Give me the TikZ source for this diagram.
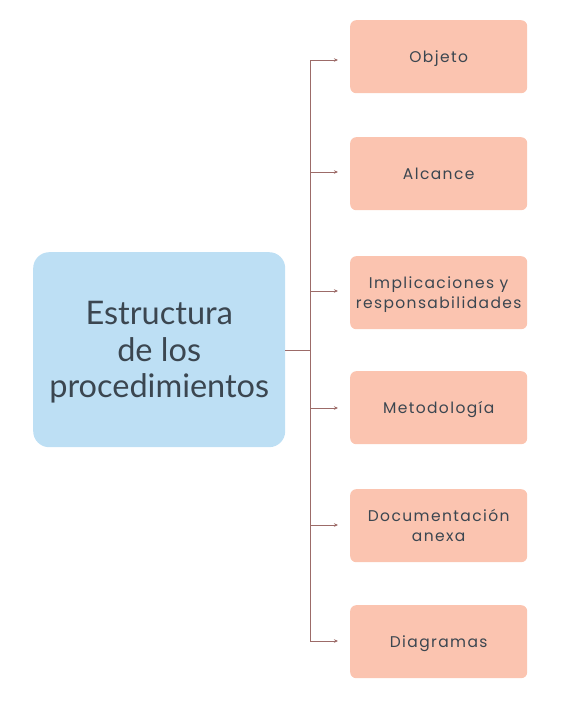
\documentclass[tikz,border=0pt]{standalone}
\usepackage{fontspec}
\setmainfont{Lato}
\newfontfamily\boxfont[LetterSpace=9]{Poppins}
\usetikzlibrary{arrows.meta}
\definecolor{centerfill}{HTML}{BDDFF4}
\definecolor{leaffill}{HTML}{FBC4B0}
\definecolor{txt}{HTML}{3B4650}
\definecolor{conn}{HTML}{9C6B68}
\newcommand{\dn}[2]{\raisebox{-#1}[\height][\depth]{\begin{tabular}{@{}c@{}}#2\end{tabular}}}
\begin{document}
\begin{tikzpicture}[x=1pt,y=-1pt,
  leaf/.style={draw=none,fill=leaffill,rounded corners=6pt,minimum width=177pt,minimum height=73pt,
    anchor=north west,align=center,text=txt,font=\boxfont\fontsize{15.5}{19.5}\selectfont,inner sep=0pt},
  center/.style={draw=none,fill=centerfill,rounded corners=16pt,minimum width=252pt,minimum height=195pt,
    anchor=north west,align=center,text=txt,font=\fontsize{32.5}{36.5}\selectfont,inner sep=0pt},
  conn/.style={draw=conn,line width=0.9pt},
  arr/.style={conn,-{Stealth[length=4pt,width=3.5pt]}}]
\useasboundingbox (0,0) rectangle (567,712);
\node[center] (c) at (33,252) {\dn{4pt}{Estructura\\de los\\procedimientos}};
\node[leaf] (l1) at (350,20) {\dn{2pt}{Objeto}};
\node[leaf] (l2) at (350,137) {\dn{2pt}{Alcance}};
\node[leaf] (l3) at (350,256) {\dn{2pt}{Implicaciones y\\responsabilidades}};
\node[leaf] (l4) at (350,371) {\dn{2pt}{Metodología}};
\node[leaf] (l5) at (350,489) {\dn{2pt}{Documentación\\anexa}};
\node[leaf] (l6) at (350,605) {\dn{2pt}{Diagramas}};
\coordinate (j) at (310,350);
\coordinate (t1) at (310,60);
\coordinate (t6) at (310,641);
\foreach \i/\y in {1/60,2/172,3/291,4/408,5/525,6/641}{
  \coordinate (s\i) at (310,\y);
  \coordinate (e\i) at (338,\y);
}
\draw[conn] (c.east |- j) -- (j);
\draw[conn] (t1) -- (t6);
\foreach \i in {1,...,6}{\draw[arr] (s\i) -- (e\i);}
\end{tikzpicture}
\end{document}
